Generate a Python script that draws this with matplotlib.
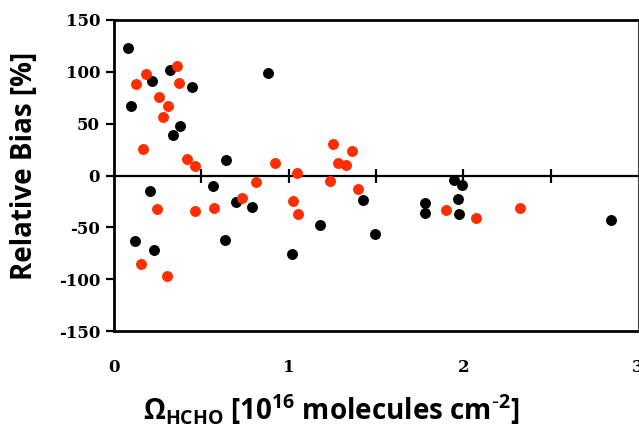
import matplotlib
matplotlib.use("Agg")
import matplotlib.pyplot as plt
import numpy as np

# black series
blackX = [0.082, 0.097, 0.217, 0.322, 0.446, 0.379, 0.337, 0.88, 0.642,
          0.204, 0.564, 0.697, 0.792, 0.122, 0.229, 0.636, 1.017,
          1.425, 1.18, 1.494, 1.779, 1.783, 1.945, 1.994, 1.97, 1.977, 2.846]
blackY = [123, 67, 91.4, 102, 85.3, 48, 39.3, 99, 14.5,
          -14.8, -10, -26, -30, -63, -71.4, -61.8, -76,
          -24, -47.6, -56, -27, -36, -4.8, -9, -22.5, -37, -42.8]

# red series
redX = [0.127, 0.185, 0.358, 0.371, 0.257, 0.309, 0.28, 0.166, 0.417, 0.463, 0.924, 1.048,
        0.813, 0.731, 0.248, 0.465, 0.571, 1.027, 1.055, 0.154, 0.305,
        1.253, 1.36, 1.284, 1.331, 1.236, 1.396, 1.90, 2.07, 2.326]
redY = [87.8, 97.8, 105.5, 89.5, 75.6, 66.6, 56, 26, 15.7, 9, 12.3, 2.6,
        -6.4, -22, -32, -34.4, -31.5, -24.8, -37.3, -85, -96.5,
        30.6, 23.2, 12.5, 10.3, -5.2, -13.2, -33, -41, -31.5]

xTicks = [0, 1, 2, 3]
xMinor = [0.5, 1.0, 1.5, 2.0, 2.5]
yTicks = [-150, -100, -50, 0, 50, 100, 150]

plt.rcParams['mathtext.default'] = 'regular'
plt.rcParams['axes.unicode_minus'] = False

tickFont = dict(fontfamily='DejaVu Serif', fontweight='bold', fontsize=12)
labelFont = dict(fontfamily='Open Sans', fontweight='bold', fontsize=20)

fig = plt.figure(figsize=(6.39, 4.24), dpi=100)
ax = fig.add_axes([114/639, 1-331/424, 524/639, 311/424])

ax.scatter(blackX, blackY, s=62, color='black', zorder=3, linewidths=0)
ax.scatter(redX, redY, s=62, color='#ff2e00', zorder=3, linewidths=0)

ax.set_xlim(0, 3)
ax.set_ylim(-150, 150)

# x axis crosses at zero, labels at the bottom
ax.spines['bottom'].set_position(('data', 0))
ax.spines['bottom'].set_linewidth(1.6)
ax.set_xticks(xMinor)
ax.tick_params(axis='x', direction='inout', length=10, width=1.6, labelbottom=False)

ax.spines['left'].set_linewidth(2)
ax.spines['top'].set_linewidth(2)
ax.spines['right'].set_linewidth(0.8)
ax.spines['right'].set_color('#444444')

ax.set_yticks(yTicks, [str(t) for t in yTicks], **tickFont)
ax.tick_params(axis='y', direction='out', length=6, width=1.6, pad=4)

sec = ax.secondary_xaxis(0)
sec.set_xticks(xTicks, [str(t) for t in xTicks], **tickFont)
sec.tick_params(length=0, pad=20)
sec.spines['bottom'].set_linewidth(2)

ax.set_ylabel("Relative Bias [%]", va='center', **labelFont)
ax.yaxis.set_label_coords(-0.170, 0.53)

ax.set_xlabel(r"$\Omega_{HCHO}$ [10$^{16}$ molecules cm$^{\text{-}2}$]", va='baseline', **labelFont)
ax.xaxis.set_label_coords(0.415, -0.286)

fig.savefig("out.png", dpi=100)
